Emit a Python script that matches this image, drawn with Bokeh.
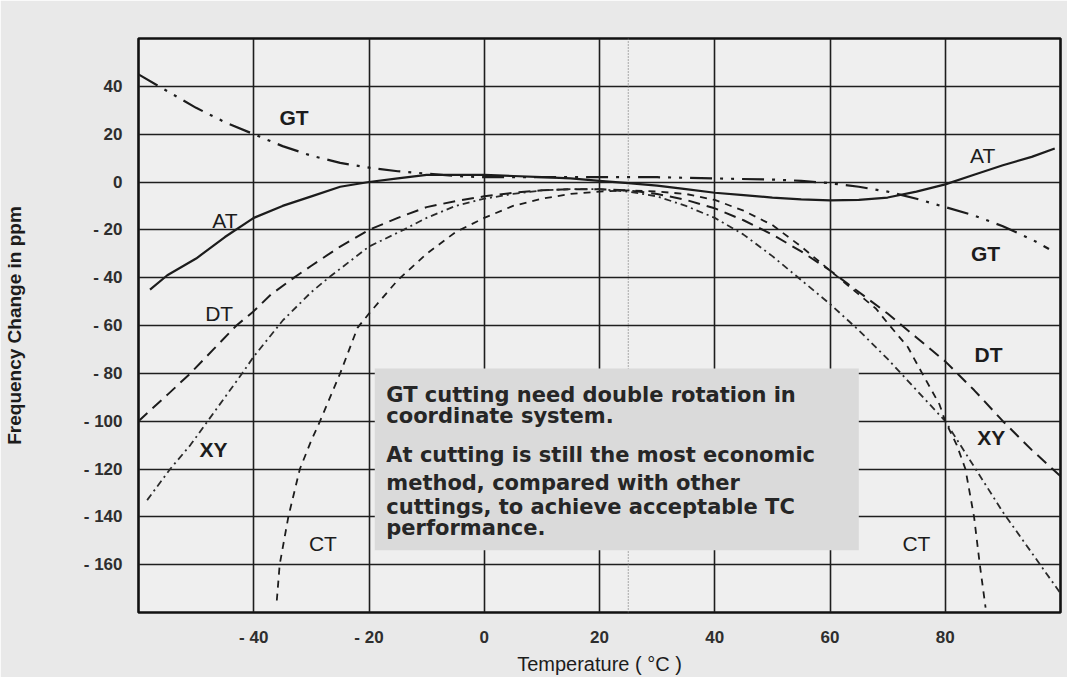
from bokeh.plotting import figure
from bokeh.models import FixedTicker, Range1d
from bokeh.core.properties import value
from bokeh.embed import file_html
from bokeh.resources import INLINE

# ---------------- data ----------------
temp_ticks = [-40, -20, 0, 20, 40, 60, 80]
temp_tick_labels = ["- 40", "- 20", "0", "20", "40", "60", "80"]
ppm_ticks = [-160, -140, -120, -100, -80, -60, -40, -20, 0, 20, 40]
ppm_tick_labels = ["- 160", "- 140", "- 120", "- 100", "- 80", "- 60", "- 40", "- 20", "0", "20", "40"]

room_temp = 25

at_temp = [-58, -55, -50, -45, -40, -35, -30, -25, -20, -15, -10, -5, 0, 5, 10, 15, 20, 25, 30,
           35, 40, 45, 50, 55, 60, 65, 70, 75, 80, 85, 90, 95, 99]
at_ppm = [-45, -39, -32, -23, -15, -10, -6, -2, 0, 1.5, 3, 3, 3, 2.5, 2, 1.5, 0.5, -0.5, -1.5,
          -3, -4.5, -5.5, -6.5, -7.3, -7.7, -7.5, -6.5, -4, -1, 3, 7, 10.5, 14]

gt_temp = [-60, -55, -50, -45, -40, -35, -30, -25, -20, -15, -10, -5, 0, 10, 20, 30, 40, 50, 55,
           60, 65, 70, 75, 80, 85, 90, 95, 98]
gt_ppm = [45, 38, 31, 25, 20, 15, 11, 8, 6, 4.5, 3.5, 2.5, 2, 2, 2, 2, 1.5, 1, 0.5,
          -0.5, -2, -4, -7, -10.5, -14, -18.5, -24, -28]

dt_temp = [-60, -55, -51, -47, -43, -40, -37, -33, -30, -25, -20, -15, -10, -5, 0, 5, 10, 15, 20,
           25, 30, 35, 40, 45, 50, 55, 60, 65, 70, 75, 80, 85, 90, 95, 100]
dt_ppm = [-100, -89, -80, -70, -60, -54, -47, -40, -35, -27, -20, -15, -10.5, -8, -6, -4.5, -3.5, -3, -3,
          -3.5, -5, -7.5, -11, -16, -22, -29, -37, -46, -55, -65, -75, -87, -100, -112, -123]

xy_temp = [-58.5, -54.5, -51, -48, -45, -42, -40, -35, -30, -27, -20, -14, -10, -5, 0, 5, 10, 15, 20,
           25, 30, 35, 40, 45, 50, 54, 60, 65, 70, 75, 80, 85, 90, 95, 100]
xy_ppm = [-133, -120, -110, -100, -90, -80, -73, -58, -46, -40, -27, -20, -15, -10, -7, -5, -3.5, -3, -3,
          -4, -6, -10, -15, -22, -31, -39, -51, -62, -74, -87, -100, -119, -138, -155, -172]

ct_temp = [-36, -35.5, -34, -32, -30, -28.5, -25, -22, -20, -15, -10, -5, 0, 5, 10, 15, 20, 25, 30,
           35, 40, 45, 50, 55, 60, 65, 68, 70, 73.5, 76, 79, 80, 82, 83.5, 85, 86, 87]
ct_ppm = [-175, -160, -140, -120, -108, -100, -80, -61, -55, -41, -30, -21, -15, -10, -7, -5, -4, -3.5, -4,
          -5, -7.5, -12, -18, -27, -37, -47, -53, -59, -69, -80, -93, -100, -110, -120, -140, -160, -178]

curve_labels = ["GT", "AT", "DT", "XY", "CT", "AT", "GT", "DT", "XY", "CT"]
curve_label_temp = [-33, -45, -46, -47, -28, 86.5, 87, 87.5, 88, 75]
curve_label_ppm = [27, -16, -55, -112, -151, 11, -30, -72, -107, -151]
curve_label_weight = ["bold", "normal", "normal", "bold", "normal", "normal", "bold", "bold", "bold", "normal"]

note_lines = [
    "GT cutting need double rotation in",
    "coordinate system.",
    "At cutting is still the most economic",
    "method, compared with other",
    "cuttings,  to achieve acceptable TC",
    "performance.",
]

# ---------------- figure ----------------
INK = "#1c1c1c"
p = figure(width=1067, height=677, output_backend="svg", toolbar_location=None,
           x_range=Range1d(-60, 100), y_range=Range1d(-180, 60),
           min_border_left=135, min_border_right=7, min_border_top=38, min_border_bottom=62)
p.background_fill_color = "#efefef"
p.border_fill_color = "#e9e9e9"
p.outline_line_color = "#111111"
p.outline_line_width = 2.6

p.xaxis.ticker = FixedTicker(ticks=temp_ticks)
p.yaxis.ticker = FixedTicker(ticks=ppm_ticks)
p.xaxis.major_label_overrides = {t: s for t, s in zip(temp_ticks, temp_tick_labels)}
p.yaxis.major_label_overrides = {t: s for t, s in zip(ppm_ticks, ppm_tick_labels)}
for ax in (p.xaxis, p.yaxis):
    ax.axis_line_color = None
    ax.major_tick_line_color = None
    ax.minor_tick_line_color = None
    ax.major_label_text_font = "Liberation Sans"
    ax.major_label_text_font_style = "bold"
    ax.major_label_text_color = "#2e2e2e"
    ax.major_label_text_font_size = "17px"
p.xaxis.major_label_standoff = 9
p.yaxis.major_label_standoff = 10

p.xaxis.axis_label = "Temperature ( °C )"
p.xaxis.axis_label_text_font = "Liberation Sans"
p.xaxis.axis_label_text_font_style = "normal"
p.xaxis.axis_label_text_font_size = "20px"
p.xaxis.axis_label_text_color = INK
p.xaxis.axis_label_standoff = 3

p.yaxis.axis_label = "Frequency Change in ppm"
p.yaxis.axis_label_text_font = "Liberation Sans"
p.yaxis.axis_label_text_font_style = "bold"
p.yaxis.axis_label_text_font_size = "19px"
p.yaxis.axis_label_text_color = INK
p.yaxis.axis_label_standoff = 56

p.grid.grid_line_color = "#1e1e1e"
p.grid.grid_line_width = 1.6

# room temperature dotted line
p.line([room_temp, room_temp], [-180, 60], line_color="#7a7a7a", line_width=1.2, line_dash="1 2")

# curves
p.line(at_temp, at_ppm, line_color=INK, line_width=2.2)
p.line(gt_temp, gt_ppm, line_color=INK, line_width=2.2, line_dash="22 8 3 8 3 8")
p.line(dt_temp, dt_ppm, line_color=INK, line_width=2.0, line_dash="12 7")
p.line(xy_temp, xy_ppm, line_color="#2a2a2a", line_width=1.8, line_dash="7 4 2 4")
p.line(ct_temp, ct_ppm, line_color=INK, line_width=1.8, line_dash="7 6")

# note box
p.quad(left=-19, right=65, bottom=-154, top=-78, fill_color="#dadada", line_color=None)
note_y = [-89, -98, -114, -126, -136, -144.5]
p.text(x=[-17] * len(note_lines), y=note_y, text=note_lines,
       text_font=value("DejaVu Sans"), text_font_style="bold", text_font_size="21px",
       text_color="#262626", text_baseline="middle", text_align="left")

# curve labels
for lab, tx, ty, w in zip(curve_labels, curve_label_temp, curve_label_ppm, curve_label_weight):
    p.text(x=[tx], y=[ty], text=[lab], text_font=value("Liberation Sans"), text_font_style=w,
           text_font_size="21px", text_color=INK, text_align="center", text_baseline="middle")

open("out.html", "w").write(file_html(p, INLINE))
